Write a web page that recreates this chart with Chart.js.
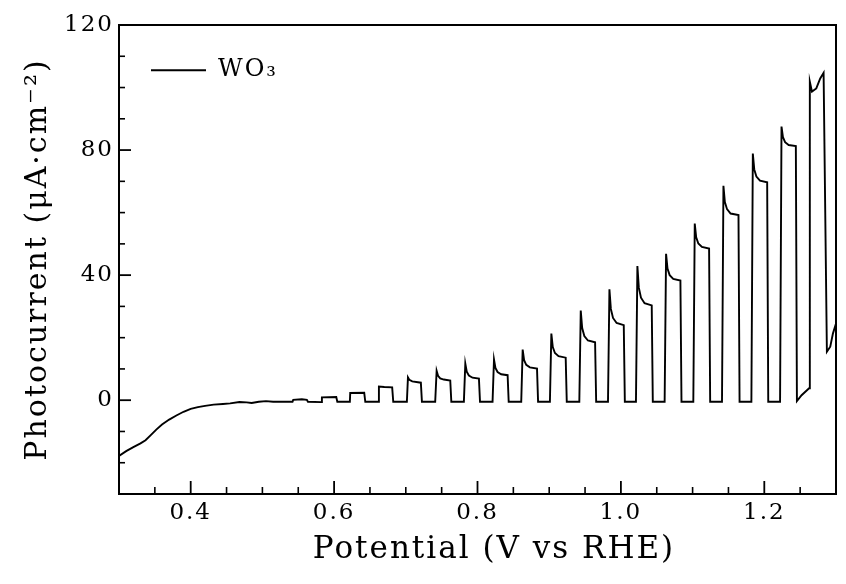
<!DOCTYPE html>
<html>
<head>
<meta charset="utf-8">
<script src="https://cdn.jsdelivr.net/npm/chart.js@4.4.1/dist/chart.umd.min.js"></script>
<style>
  html, body { margin: 0; padding: 0; background: #fff; }
  #wrap { width: 846px; height: 584px; }
</style>
</head>
<body>
<div id="wrap"><canvas id="c" width="846" height="584"></canvas></div>
<script>
// ---- data ----
const seriesLabel = 'WO₃';
const xTitle = '\u2003Potential (V vs RHE)';
const yTitle = 'Photocurrent (μA·cm⁻²)';

const potential = [
  0.300,0.310,0.320,0.330,0.337,0.345,0.352,0.360,0.370,0.380,0.390,0.400,0.410,0.420,0.432,0.445,0.455,0.468,0.478,0.485,0.495,0.505,0.515,0.530,0.542,
  0.543,0.555,0.562,0.5635,
  0.582,0.583,0.603,0.6045,
  0.622,0.6225,0.642,0.6435,
  0.6615,0.6625,0.670,0.681,0.6825,
  0.7015,0.703,0.705,0.709,0.721,0.7225,
  0.741,0.743,0.745,0.748,0.753,0.762,0.7635,
  0.781,0.783,0.785,0.788,0.793,0.802,0.8035,
  0.821,0.823,0.825,0.828,0.833,0.842,0.8435,
  0.861,0.863,0.865,0.868,0.873,0.883,0.8845,
  0.901,0.903,0.905,0.908,0.913,0.923,0.9245,
  0.942,0.944,0.946,0.949,0.954,0.964,0.9655,
  0.982,0.984,0.986,0.989,0.994,1.004,1.0055,
  1.021,1.023,1.025,1.028,1.033,1.043,1.0445,
  1.061,1.063,1.065,1.068,1.073,1.083,1.0845,
  1.101,1.103,1.105,1.108,1.113,1.123,1.1245,
  1.141,1.143,1.145,1.148,1.153,1.164,1.1655,
  1.182,1.184,1.186,1.189,1.194,1.204,1.2055,
  1.222,1.224,1.226,1.229,1.234,1.244,1.2455,
  1.252,1.2625,1.2635,1.2665,1.2725,1.278,1.2827,1.2873,1.292,1.2957,1.300
];
const photocurrent = [
  -17.8,-16.3,-15.0,-13.8,-12.8,-11.0,-9.4,-7.8,-6.2,-4.9,-3.7,-2.8,-2.2,-1.8,-1.4,-1.2,-1.0,-0.6,-0.7,-0.9,-0.5,-0.3,-0.5,-0.5,-0.5,
  0.1,0.3,0.1,-0.5,
  -0.6,0.9,1.0,-0.5,
  -0.5,2.3,2.4,-0.5,
  -0.5,4.4,4.2,4.1,-0.5,
  -0.5,7.3,6.5,6.0,5.6,-0.5,
  -0.5,9.4,7.8,7.0,6.6,6.3,-0.5,
  -0.5,11.7,9.1,7.9,7.2,6.9,-0.5,
  -0.5,13.0,10.3,9.0,8.3,8.0,-0.5,
  -0.5,16.2,12.8,11.3,10.5,10.1,-0.5,
  -0.5,21.3,17.0,15.1,14.1,13.6,-0.5,
  -0.5,28.7,23.1,20.5,19.1,18.5,-0.5,
  -0.5,35.5,29.2,26.3,24.7,24.0,-0.5,
  -0.5,42.9,36.0,32.8,31.0,30.3,-0.5,
  -0.5,46.8,42.1,40.0,38.8,38.3,-0.5,
  -0.5,56.5,52.1,50.1,49.0,48.5,-0.5,
  -0.5,68.6,63.4,61.1,59.7,59.2,-0.5,
  -0.5,78.9,73.8,71.5,70.2,69.7,-0.5,
  -0.5,87.5,84.1,82.5,81.6,81.3,-0.3,
  1.6,3.8,101.9,98.7,99.7,102.9,104.7,15.5,17.1,21.3,24.5
];

const xMajorTicks = [0.4, 0.6, 0.8, 1.0, 1.2];
const xMinorTicks = [0.35, 0.45, 0.5, 0.55, 0.65, 0.7, 0.75, 0.85, 0.9, 0.95, 1.05, 1.1, 1.15, 1.25];
const yMajorTicks = [0, 40, 80, 120];
const yMinorTicks = [-20, -10, 10, 20, 30, 50, 60, 70, 90, 100, 110];
const xRange = [0.3, 1.3];
const yRange = [-30, 120];

// ---- chart ----
const points = potential.map((v, i) => ({ x: v, y: photocurrent[i] }));
const FONT = 'DejaVu Serif';
Chart.defaults.font.family = FONT;
Chart.defaults.color = '#000';

const setTicks = arr => scale => { scale.ticks = arr.map(v => ({ value: v })); };
const fixW = w => s => { s.width = w; };
const fixH = h => s => { s.height = h; };

const spacing = {
  id: 'spacing',
  beforeDraw(chart) { chart.ctx.letterSpacing = '2px'; }
};

// inward tick marks, placed through the chart's own scales
const innerTicks = {
  id: 'innerTicks',
  afterDatasetsDraw(chart) {
    const { ctx, chartArea, scales } = chart;
    ctx.save();
    ctx.strokeStyle = '#000';
    ctx.lineCap = 'butt';
    const xs = scales.x, ys = scales.y;
    const drawX = (vals, len, w) => {
      ctx.lineWidth = w;
      vals.forEach(v => {
        const p = xs.getPixelForValue(v);
        ctx.beginPath(); ctx.moveTo(p, chartArea.bottom); ctx.lineTo(p, chartArea.bottom - len); ctx.stroke();
      });
    };
    const drawY = (vals, len, w) => {
      ctx.lineWidth = w;
      vals.forEach(v => {
        const p = ys.getPixelForValue(v);
        ctx.beginPath(); ctx.moveTo(chartArea.left, p); ctx.lineTo(chartArea.left + len, p); ctx.stroke();
      });
    };
    drawX(xMajorTicks, 13, 1.8);
    drawX(xMinorTicks, 7, 1.6);
    drawY(yMajorTicks, 12, 1.8);
    drawY(yMinorTicks, 6, 1.6);
    ctx.restore();
  }
};

new Chart(document.getElementById('c'), {
  type: 'line',
  data: {
    datasets: [{
      label: seriesLabel,
      data: points,
      borderColor: '#000',
      backgroundColor: '#000',
      borderWidth: 1.9,
      pointRadius: 0,
      tension: 0,
      fill: false
    }]
  },
  options: {
    responsive: false,
    animation: false,
    layout: { padding: { top: 25, right: 10, left: 0, bottom: 0 } },
    plugins: {
      tooltip: { enabled: false },
      legend: {
        position: 'chartArea',
        align: 'start',
        title: { display: true, text: ' ', font: { size: 1 }, padding: { top: 0, bottom: 25 } },
        labels: {
          usePointStyle: true,
          pointStyle: 'line',
          pointStyleWidth: 55,
          padding: 32,
          color: '#000',
          font: { family: FONT, size: 24 }
        }
      }
    },
    scales: {
      x: {
        type: 'linear', position: 'bottom',
        min: xRange[0], max: xRange[1],
        afterBuildTicks: setTicks(xMajorTicks),
        afterFit: fixH(90),
        ticks: {
          autoSkip: false, maxRotation: 0, padding: 5,
          font: { family: FONT, size: 23 },
          callback: v => Number(v).toFixed(1)
        },
        grid: { display: false, drawTicks: false },
        border: { display: true, color: '#000', width: 2 },
        title: { display: true, text: xTitle, font: { family: FONT, size: 31 }, padding: { top: 0, bottom: 15 } }
      },
      xTop: {
        type: 'linear', position: 'top',
        min: xRange[0], max: xRange[1],
        afterFit: fixH(0),
        ticks: { display: false },
        grid: { display: false, drawTicks: false },
        border: { display: true, color: '#000', width: 2 }
      },
      y: {
        type: 'linear', position: 'left',
        min: yRange[0], max: yRange[1],
        afterBuildTicks: setTicks(yMajorTicks),
        afterFit: fixW(119),
        ticks: {
          padding: 5,
          font: { family: FONT, size: 23 },
          callback: v => String(v)
        },
        grid: { display: false, drawTicks: false },
        border: { display: true, color: '#000', width: 2 },
        title: { display: true, text: yTitle, font: { family: FONT, size: 30 }, padding: { top: 20, bottom: 0 } }
      },
      yRight: {
        type: 'linear', position: 'right',
        min: yRange[0], max: yRange[1],
        afterFit: fixW(0),
        ticks: { display: false },
        grid: { display: false, drawTicks: false },
        border: { display: true, color: '#000', width: 2 }
      }
    }
  },
  plugins: [spacing, innerTicks]
});
</script>
</body>
</html>
